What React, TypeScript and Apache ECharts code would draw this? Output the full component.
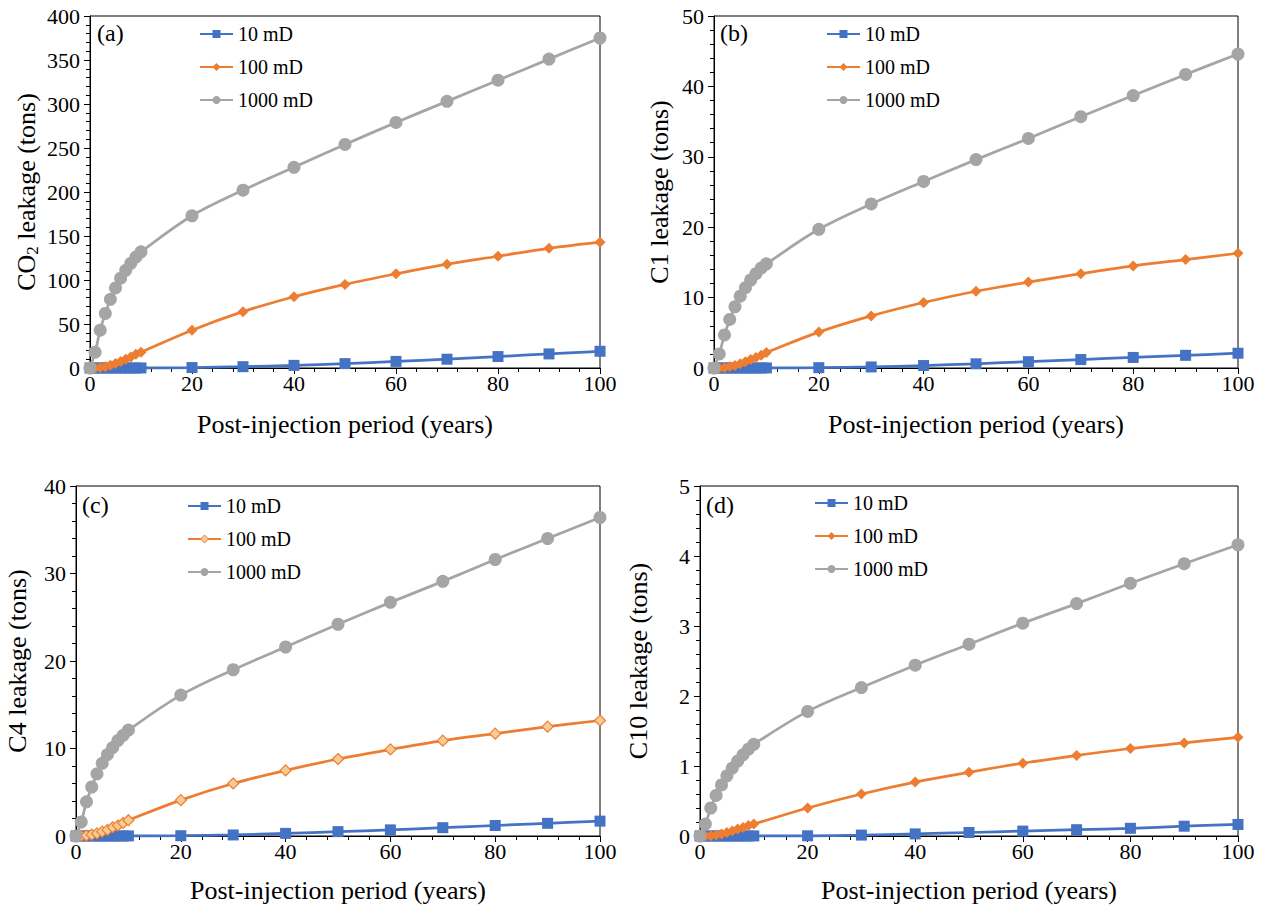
import React, { useEffect, useRef } from "react";
import * as echarts from "echarts";

const years = [0, 1, 2, 3, 4, 5, 6, 7, 8, 9, 10, 20, 30, 40, 50, 60, 70, 80, 90, 100];
const seriesNames = ["10 mD", "100 mD", "1000 mD"];
const panelLabels = ["(a)", "(b)", "(c)", "(d)"];

// (a) CO2
const co2_10 = [0, 0, 0, 0, 0, 0, 0, 0, 0, 0, 0.05, 0.5, 1.5, 3, 5, 7.5, 10, 13, 16, 19];
const co2_100 = [0, 0, 0.5, 1.5, 3, 5, 7.5, 10, 12.5, 15.5, 18, 43, 64, 81, 95, 107, 118, 127, 136, 143];
const co2_1000 = [0, 18, 43, 62, 78, 91, 102, 111, 119, 126, 132, 173, 202, 228, 254, 279, 303, 327, 351, 375];
// (b) C1
const c1_10 = [0, 0, 0, 0, 0, 0, 0, 0, 0, 0, 0.01, 0.05, 0.15, 0.35, 0.6, 0.9, 1.2, 1.5, 1.8, 2.1];
const c1_100 = [0, 0, 0.05, 0.2, 0.35, 0.6, 0.9, 1.2, 1.5, 1.8, 2.2, 5.1, 7.4, 9.3, 10.9, 12.2, 13.4, 14.5, 15.4, 16.3];
const c1_1000 = [0, 2, 4.7, 6.9, 8.7, 10.2, 11.4, 12.5, 13.4, 14.2, 14.8, 19.7, 23.3, 26.5, 29.6, 32.6, 35.7, 38.7, 41.7, 44.6];
// (c) C4
const c4_10 = [0, 0, 0, 0, 0, 0, 0, 0, 0, 0, 0.01, 0.03, 0.12, 0.3, 0.5, 0.7, 0.95, 1.2, 1.45, 1.7];
const c4_100 = [0, 0, 0.05, 0.15, 0.3, 0.5, 0.7, 1.0, 1.2, 1.5, 1.8, 4.1, 6.0, 7.5, 8.8, 9.9, 10.9, 11.7, 12.5, 13.2];
const c4_1000 = [0, 1.6, 3.9, 5.6, 7.1, 8.3, 9.3, 10.1, 10.9, 11.5, 12.1, 16.1, 19.0, 21.6, 24.2, 26.7, 29.1, 31.6, 34.0, 36.4];
// (d) C10
const c10_10 = [0, 0, 0, 0, 0, 0, 0, 0, 0, 0, 0.001, 0.003, 0.013, 0.03, 0.05, 0.07, 0.09, 0.11, 0.14, 0.165];
const c10_100 = [0, 0, 0.005, 0.015, 0.03, 0.05, 0.07, 0.1, 0.12, 0.15, 0.17, 0.4, 0.6, 0.77, 0.91, 1.04, 1.15, 1.25, 1.33, 1.41];
const c10_1000 = [0, 0.17, 0.4, 0.58, 0.73, 0.86, 0.97, 1.07, 1.16, 1.24, 1.31, 1.78, 2.12, 2.44, 2.74, 3.04, 3.32, 3.61, 3.89, 4.16];

const yMax = [400, 50, 40, 5];
const yInterval = [50, 10, 10, 1];
const yNames = ["{n|CO}{s|2}{n| leakage (tons)}", "C1 leakage (tons)", "C4 leakage (tons)", "C10 leakage (tons)"];
const xName = "Post-injection period (years)";

const panelData = [
  [co2_10, co2_100, co2_1000],
  [c1_10, c1_100, c1_1000],
  [c4_10, c4_100, c4_1000],
  [c10_10, c10_100, c10_1000],
];

const FONT = "'Liberation Serif', 'Times New Roman', serif";
const BLUE = "#4472C4";
const ORANGE = "#ED7D31";
const GREY = "#A5A5A5";
const LIGHT = "#F8CB95";

const grids = [
  { left: 90, top: 16, width: 510, height: 352 },
  { left: 714, top: 16, width: 524, height: 352 },
  { left: 76, top: 486, width: 524, height: 350 },
  { left: 700, top: 486, width: 538, height: 350 },
];
const legendPos = [
  { left: 199, top: 24 },
  { left: 826, top: 24 },
  { left: 187, top: 496 },
  { left: 814, top: 493 },
];
const labelPos = [
  { x: 97, y: 21 },
  { x: 720, y: 21 },
  { x: 82, y: 493 },
  { x: 706, y: 493 },
];
const yNameGap = [49, 42, 46, 49];
const xNameGap = [43, 43, 41, 41];

export default function App() {
  const ref = useRef<HTMLDivElement>(null);
  useEffect(() => {
    document.body.style.margin = "0";
    const chart = echarts.init(ref.current!, undefined, { renderer: "svg" });
    const symbols = ["rect", "diamond", "circle"];
    const sizes = [11, 11, 13];
    const colors = [BLUE, ORANGE, GREY];

    const series: any[] = [];
    panelData.forEach((arr, p) => {
      arr.forEach((vals, s) => {
        const hollow = p === 2 && s === 1;
        series.push({
          name: seriesNames[s],
          type: "line",
          xAxisIndex: p,
          yAxisIndex: p,
          data: years.map((x, i) => [x, vals[i]]),
          smooth: 0.35,
          symbol: symbols[s],
          symbolSize: sizes[s],
          clip: false,
          lineStyle: { color: colors[s], width: 2.75 },
          itemStyle: hollow
            ? { color: LIGHT, borderColor: ORANGE, borderWidth: 1.2 }
            : { color: colors[s], borderWidth: 0 },
          z: 2 + s,
        });
      });
    });

    const option: any = {
      animation: false,
      backgroundColor: "#fff",
      textStyle: { fontFamily: FONT },
      grid: grids.map((g) => ({ ...g, show: true, borderColor: "#000", borderWidth: 1, backgroundColor: "transparent" })),
      xAxis: grids.map((_, p) => ({
        type: "value",
        gridIndex: p,
        min: 0,
        max: 100,
        interval: 20,
        name: xName,
        nameLocation: "middle",
        nameGap: xNameGap[p],
        nameTextStyle: { fontFamily: FONT, fontSize: 26, color: "#000" },
        axisLine: { lineStyle: { color: "#000", width: 1 } },
        axisTick: { show: true, length: 6, lineStyle: { color: "#000" } },
        minorTick: { show: true, splitNumber: 5, length: 4, lineStyle: { color: "#000" } },
        splitLine: { show: false },
        axisLabel: { fontFamily: FONT, fontSize: 22, color: "#000", margin: 4 },
      })),
      yAxis: grids.map((_, p) => ({
        type: "value",
        gridIndex: p,
        min: 0,
        max: yMax[p],
        interval: yInterval[p],
        name: yNames[p],
        nameLocation: "middle",
        nameRotate: 90,
        nameGap: yNameGap[p],
        nameTextStyle: {
          fontFamily: FONT,
          fontSize: 26,
          color: "#000",
          rich: {
            n: { fontFamily: FONT, fontSize: 26, color: "#000" },
            s: { fontFamily: FONT, fontSize: 17, color: "#000", padding: [12, 0, 0, 0] },
          },
        },
        axisLine: { show: true, lineStyle: { color: "#000", width: 1 } },
        axisTick: { show: true, length: 6, lineStyle: { color: "#000" } },
        minorTick: { show: true, splitNumber: 5, length: 4, lineStyle: { color: "#000" } },
        splitLine: { show: false },
        axisLabel: { fontFamily: FONT, fontSize: 22, color: "#000", margin: 10 },
      })),
      legend: legendPos.map((lp, p) => ({
        ...lp,
        orient: "vertical",
        padding: 0,
        itemWidth: 33,
        itemHeight: 10,
        itemGap: 13,
        textStyle: { fontFamily: FONT, fontSize: 20, color: "#000" },
        selectedMode: false,
        data: seriesNames.map((n, s) =>
          p === 2 && s === 1
            ? { name: n, itemStyle: { color: LIGHT, borderColor: ORANGE, borderWidth: 1 } }
            : { name: n }
        ),
      })),
      graphic: labelPos.map((lp, p) => ({
        type: "text",
        x: lp.x,
        y: lp.y,
        style: { text: panelLabels[p], font: `24px ${FONT}`, fill: "#000" },
      })),
      series,
    };
    chart.setOption(option);
    return () => chart.dispose();
  }, []);
  return <div ref={ref} style={{ width: 1266, height: 910 }} />;
}
